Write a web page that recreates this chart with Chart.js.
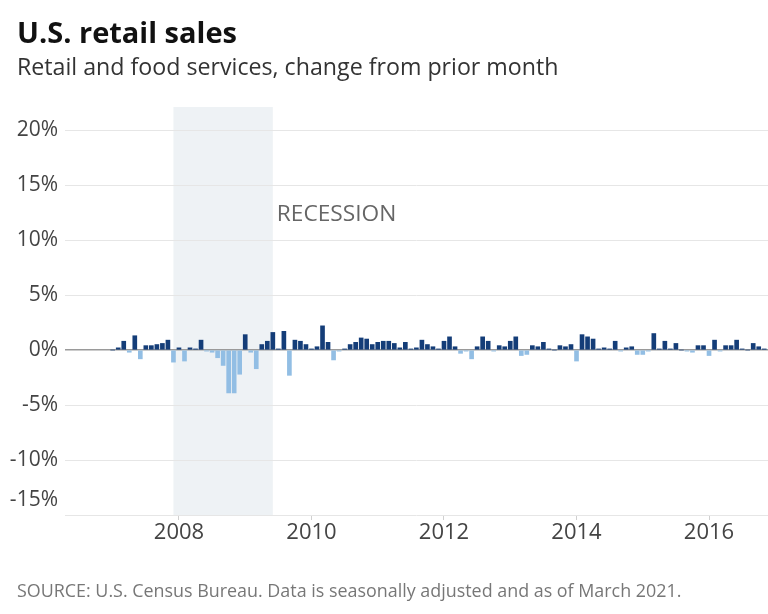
<!DOCTYPE html>
<html>
<head>
<meta charset="utf-8">
<script src="https://cdn.jsdelivr.net/npm/chart.js@4.4.1/dist/chart.umd.min.js"></script>
<style>
    body { margin: 0; background: #fff; }
    #wrap { position: relative; width: 768px; height: 614px; overflow: hidden; font-family: "Open Sans", sans-serif; }
    #chart { position: absolute; left: 0; top: 0; }
    #wrap div { position: absolute; left: 17px; line-height: 1; white-space: nowrap; }
    .title { top: 17px; font-size: 29px; font-weight: 700; color: #111; }
    .subtitle { top: 55px; font-size: 23.2px; color: #333; }
    .source { top: 582px; font-size: 17.9px; color: #777; }
</style>
</head>
<body>
<div id="wrap">
    <canvas id="chart" width="768" height="614"></canvas>
    <div class="title">U.S. retail sales</div>
    <div class="subtitle">Retail and food services, change from prior month</div>
    <div class="source">SOURCE: U.S. Census Bureau. Data is seasonally adjusted and as of March 2021.</div>
</div>
<script>
// Monthly % change, retail and food services
const years = [2007, 2008, 2009, 2010, 2011, 2012, 2013, 2014, 2015, 2016];
const sales2007 = [0.0, 0.2, 0.8, -0.2, 1.3, -0.8, 0.4, 0.4, 0.5, 0.6, 0.9, -1.1];
const sales2008 = [0.2, -1.0, 0.2, 0.1, 0.9, -0.1, -0.2, -0.7, -1.4, -3.9, -3.9, -2.2];
const sales2009 = [1.4, -0.2, -1.7, 0.5, 0.8, 1.6, 0.1, 1.7, -2.3, 0.9, 0.8, 0.5];
const sales2010 = [0.1, 0.3, 2.2, 0.7, -0.9, -0.1, 0.1, 0.5, 0.7, 1.1, 1.0, 0.5];
const sales2011 = [0.7, 0.8, 0.8, 0.6, 0.2, 0.7, 0.1, 0.2, 0.9, 0.5, 0.3, 0.1];
const sales2012 = [0.8, 1.2, 0.3, -0.3, -0.1, -0.8, 0.3, 1.2, 0.8, -0.1, 0.4, 0.3];
const sales2013 = [0.8, 1.2, -0.5, -0.4, 0.4, 0.3, 0.7, 0.1, 0.0, 0.4, 0.3, 0.5];
const sales2014 = [-1.0, 1.4, 1.2, 1.0, 0.1, 0.2, 0.1, 0.8, -0.1, 0.2, 0.3, -0.4];
const sales2015 = [-0.4, -0.1, 1.5, 0.1, 0.8, 0.1, 0.6, 0.0, -0.1, -0.2, 0.4, 0.4];
const sales2016 = [-0.5, 0.9, -0.1, 0.4, 0.4, 0.9, 0.1, 0.0, 0.6, 0.3, 0.1];
const salesByYear = [sales2007, sales2008, sales2009, sales2010, sales2011, sales2012, sales2013, sales2014, sales2015, sales2016];

const yTicks = [-15, -10, -5, 0, 5, 10, 15, 20];
const xTicks = [2008, 2010, 2012, 2014, 2016];

// Recession: Dec 2007 - Jun 2009
const recessionStart = 2007 + 11 / 12;
const recessionEnd = 2009 + 5 / 12;

const points = [];
salesByYear.forEach((values, i) => {
    values.forEach((v, m) => {
        points.push({ x: years[i] + m / 12, y: v });
    });
});

const fontFamily = '"Open Sans", sans-serif';

// Shaded recession band + label
const recessionPlugin = {
    id: 'recession',
    beforeDraw(chart) {
        const { ctx, chartArea, scales } = chart;
        const x0 = scales.x.getPixelForValue(recessionStart);
        const x1 = scales.x.getPixelForValue(recessionEnd);
        ctx.save();
        ctx.fillStyle = '#eef2f5';
        ctx.fillRect(x0, chartArea.top, x1 - x0, chartArea.bottom - chartArea.top);
        ctx.fillStyle = '#666';
        ctx.font = '22.7px ' + fontFamily;
        ctx.textBaseline = 'middle';
        ctx.fillText('RECESSION', x1 + 4, scales.y.getPixelForValue(12.3));
        ctx.restore();
    }
};

new Chart(document.getElementById('chart'), {
    type: 'bar',
    data: {
        datasets: [{
            data: points,
            barThickness: 4,
            backgroundColor: (ctx) => (ctx.raw && ctx.raw.y < 0 ? '#92bee4' : '#143d78'),
        }],
    },
    options: {
        responsive: false,
        animation: false,
        devicePixelRatio: 1,
        layout: { padding: { top: 107, left: 0, right: 0, bottom: 0 } },
        plugins: {
            legend: { display: false },
            tooltip: { enabled: false },
        },
        scales: {
            x: {
                type: 'linear',
                min: 2006.28,
                max: 2016.89,
                offset: false,
                afterFit: (scale) => { scale.height = 99; },
                afterBuildTicks: (scale) => { scale.ticks = xTicks.map((v) => ({ value: v })); },
                grid: { offset: false, drawOnChartArea: false, drawTicks: true, tickLength: 5, color: '#d0d0d0' },
                border: { display: false },
                ticks: {
                    padding: 0,
                    autoSkip: false,
                    maxRotation: 0,
                    color: '#444',
                    font: { family: fontFamily, size: 22 },
                    callback: (v) => String(v),
                },
            },
            y: {
                min: -15,
                max: 22.1,
                afterFit: (scale) => { scale.width = 65; },
                afterBuildTicks: (scale) => { scale.ticks = yTicks.map((v) => ({ value: v })); },
                grid: {
                    drawTicks: false,
                    color: (ctx) => (ctx.tick && ctx.tick.value === 0 ? '#9a9a9a' : '#e6e6e6'),
                    lineWidth: (ctx) => (ctx.tick && ctx.tick.value === 0 ? 1.5 : 1),
                },
                border: { display: false },
                ticks: {
                    padding: 7,
                    autoSkip: false,
                    color: '#444',
                    font: { family: fontFamily, size: 21, lineHeight: 1.42 },
                    // the -15% label sits a bit above its line in the original
                    callback: (v) => (v === -15 ? ['-15%', ''] : v + '%'),
                },
            },
        },
    },
    plugins: [recessionPlugin],
});
</script>
</body>
</html>
